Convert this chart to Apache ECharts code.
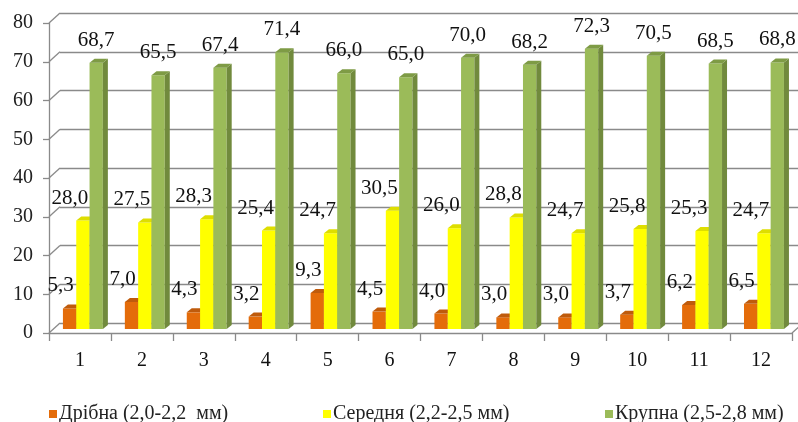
<!DOCTYPE html>
<html>
<head>
<meta charset="utf-8">
<script src="https://cdn.jsdelivr.net/npm/echarts@6/dist/echarts.min.js"></script>
<style>
  html, body { margin: 0; padding: 0; background: #fff; }
  #chart { width: 798px; height: 422px; }
</style>
</head>
<body>
<div id="chart"></div>
<script>
// Fraction sizes per sample (%)
const categories = ['1', '2', '3', '4', '5', '6', '7', '8', '9', '10', '11', '12'];
const fineValues = [5.3, 7.0, 4.3, 3.2, 9.3, 4.5, 4.0, 3.0, 3.0, 3.7, 6.2, 6.5];
const mediumValues = [28.0, 27.5, 28.3, 25.4, 24.7, 30.5, 26.0, 28.8, 24.7, 25.8, 25.3, 24.7];
const coarseValues = [68.7, 65.5, 67.4, 71.4, 66.0, 65.0, 70.0, 68.2, 72.3, 70.5, 68.5, 68.8];
const seriesNames = ['Дрібна (2,0-2,2  мм)', 'Середня (2,2-2,5 мм)', 'Крупна (2,5-2,8 мм)'];
const yMin = 0, yMax = 80, yStep = 10;
const yTickValues = [0, 10, 20, 30, 40, 50, 60, 70, 80];

const SERIF = "'Liberation Serif', 'Times New Roman', serif";
const GRID_COLOR = '#8a8a8a';
const DEPTH_X = 11, DEPTH_Y = 10;      // wall depth
const BAR_DX = 5, BAR_DY = 4;          // bar depth

const palettes = [
  { front: '#E46C0A', side: '#B3560A', top: '#BF5B0C' },
  { front: '#FFFF00', side: '#CFCF00', top: '#DEDE00' },
  { front: '#9BBB59', side: '#718A3D', top: '#7E9B45' }
];
const labelShift = [-9, -13, 0];

function fmt(v) { return v.toFixed(1).replace('.', ','); }

function barRenderer(k) {
  const pal = palettes[k];
  return function (params, api) {
    const i = api.value(0), v = api.value(1);
    const base = api.coord([i, 0]);
    const top = api.coord([i, v]);
    const bw = api.size([1, 0])[0];
    const w = bw * 0.215;
    const x = base[0] - bw * 0.275 + k * w;
    const y0 = base[1], y1 = top[1];
    return {
      type: 'group',
      children: [
        { type: 'rect', shape: { x: x, y: y1, width: w, height: y0 - y1 },
          style: { fill: pal.front } },
        { type: 'polygon', shape: { points: [[x + w, y1], [x + w + BAR_DX, y1 - BAR_DY], [x + w + BAR_DX, y0 - BAR_DY], [x + w, y0]] },
          style: { fill: pal.side } },
        { type: 'polygon', shape: { points: [[x, y1], [x + BAR_DX, y1 - BAR_DY], [x + w + BAR_DX, y1 - BAR_DY], [x + w, y1]] },
          style: { fill: pal.top } },
        { type: 'text', z2: 10,
          style: { text: fmt(v), x: x + w / 2 + labelShift[k], y: y1 - BAR_DY - 8,
                   align: 'center', verticalAlign: 'bottom',
                   fontSize: 21, fontFamily: SERIF, fill: '#111' } }
      ]
    };
  };
}

function wallRenderer(params, api) {
  const v = api.value(1);
  const p = api.coord([0, v]);
  const cs = params.coordSys;
  const x0 = cs.x;
  const lineStyle = { stroke: GRID_COLOR, lineWidth: 1.3 };
  const children = [
    { type: 'line', shape: { x1: x0, y1: p[1], x2: x0 + DEPTH_X, y2: p[1] - DEPTH_Y }, style: lineStyle }
  ];
  if (v === 0) {
    const xr = cs.x + cs.width;
    children.push({ type: 'line', shape: { x1: xr, y1: p[1], x2: xr + DEPTH_X, y2: p[1] - DEPTH_Y }, style: lineStyle });
  }
  return { type: 'group', children: children };
}

const chart = echarts.init(document.getElementById('chart'), null, { renderer: 'canvas' });

const legendCommon = {
  icon: 'rect', itemWidth: 8, itemHeight: 8, itemGap: 0, top: 399,
  textStyle: { fontFamily: SERIF, fontSize: 20, color: '#222', padding: [0, 0, 0, -3] }
};

chart.setOption({
  animation: false,
  backgroundColor: '#fff',
  grid: [
    // back wall
    { left: 49 + DEPTH_X, top: 23 - DEPTH_Y, width: 743, height: 310 },
    // front axes
    { left: 49, top: 23, width: 743, height: 310 },
    // bars (mid depth)
    { left: 49, top: 19, width: 743, height: 310 }
  ],
  xAxis: [
    { gridIndex: 0, type: 'category', data: categories, show: false },
    { gridIndex: 1, type: 'category', data: categories, boundaryGap: true,
      axisLine: { lineStyle: { color: GRID_COLOR, width: 1.3 } },
      axisTick: { show: true, length: 8, lineStyle: { color: GRID_COLOR, width: 1.3 } },
      axisLabel: { margin: 18, fontFamily: SERIF, fontSize: 20, color: '#111' } },
    { gridIndex: 2, type: 'category', data: categories, show: false }
  ],
  yAxis: [
    { gridIndex: 0, type: 'value', min: yMin, max: yMax, interval: yStep,
      axisLine: { show: false }, axisTick: { show: false }, axisLabel: { show: false },
      splitLine: { show: true, lineStyle: { color: GRID_COLOR, width: 1.3 } } },
    { gridIndex: 1, type: 'value', min: yMin, max: yMax, interval: yStep,
      axisLine: { show: true, lineStyle: { color: GRID_COLOR, width: 1.3 } },
      axisTick: { show: true, length: 6, lineStyle: { color: GRID_COLOR, width: 1.3 } },
      splitLine: { show: false },
      axisLabel: { margin: 16, fontFamily: SERIF, fontSize: 20, color: '#222' } },
    { gridIndex: 2, type: 'value', min: yMin, max: yMax, show: false, splitLine: { show: false } }
  ],
  legend: [
    Object.assign({}, legendCommon, { left: 44, data: [seriesNames[0]] }),
    Object.assign({}, legendCommon, { left: 318, data: [seriesNames[1]] }),
    Object.assign({}, legendCommon, { left: 600, data: [seriesNames[2]] })
  ],
  series: [
    { type: 'custom', name: 'wall', xAxisIndex: 1, yAxisIndex: 1, silent: true,
      renderItem: wallRenderer, data: yTickValues.map(v => [0, v]), z: 1 },
    { type: 'custom', name: seriesNames[0], xAxisIndex: 2, yAxisIndex: 2,
      itemStyle: { color: palettes[0].front }, renderItem: barRenderer(0),
      data: fineValues.map((v, i) => [i, v]), z: 3 },
    { type: 'custom', name: seriesNames[1], xAxisIndex: 2, yAxisIndex: 2,
      itemStyle: { color: palettes[1].front }, renderItem: barRenderer(1),
      data: mediumValues.map((v, i) => [i, v]), z: 4 },
    { type: 'custom', name: seriesNames[2], xAxisIndex: 2, yAxisIndex: 2,
      itemStyle: { color: palettes[2].front }, renderItem: barRenderer(2),
      data: coarseValues.map((v, i) => [i, v]), z: 5 }
  ]
});
</script>
</body>
</html>
